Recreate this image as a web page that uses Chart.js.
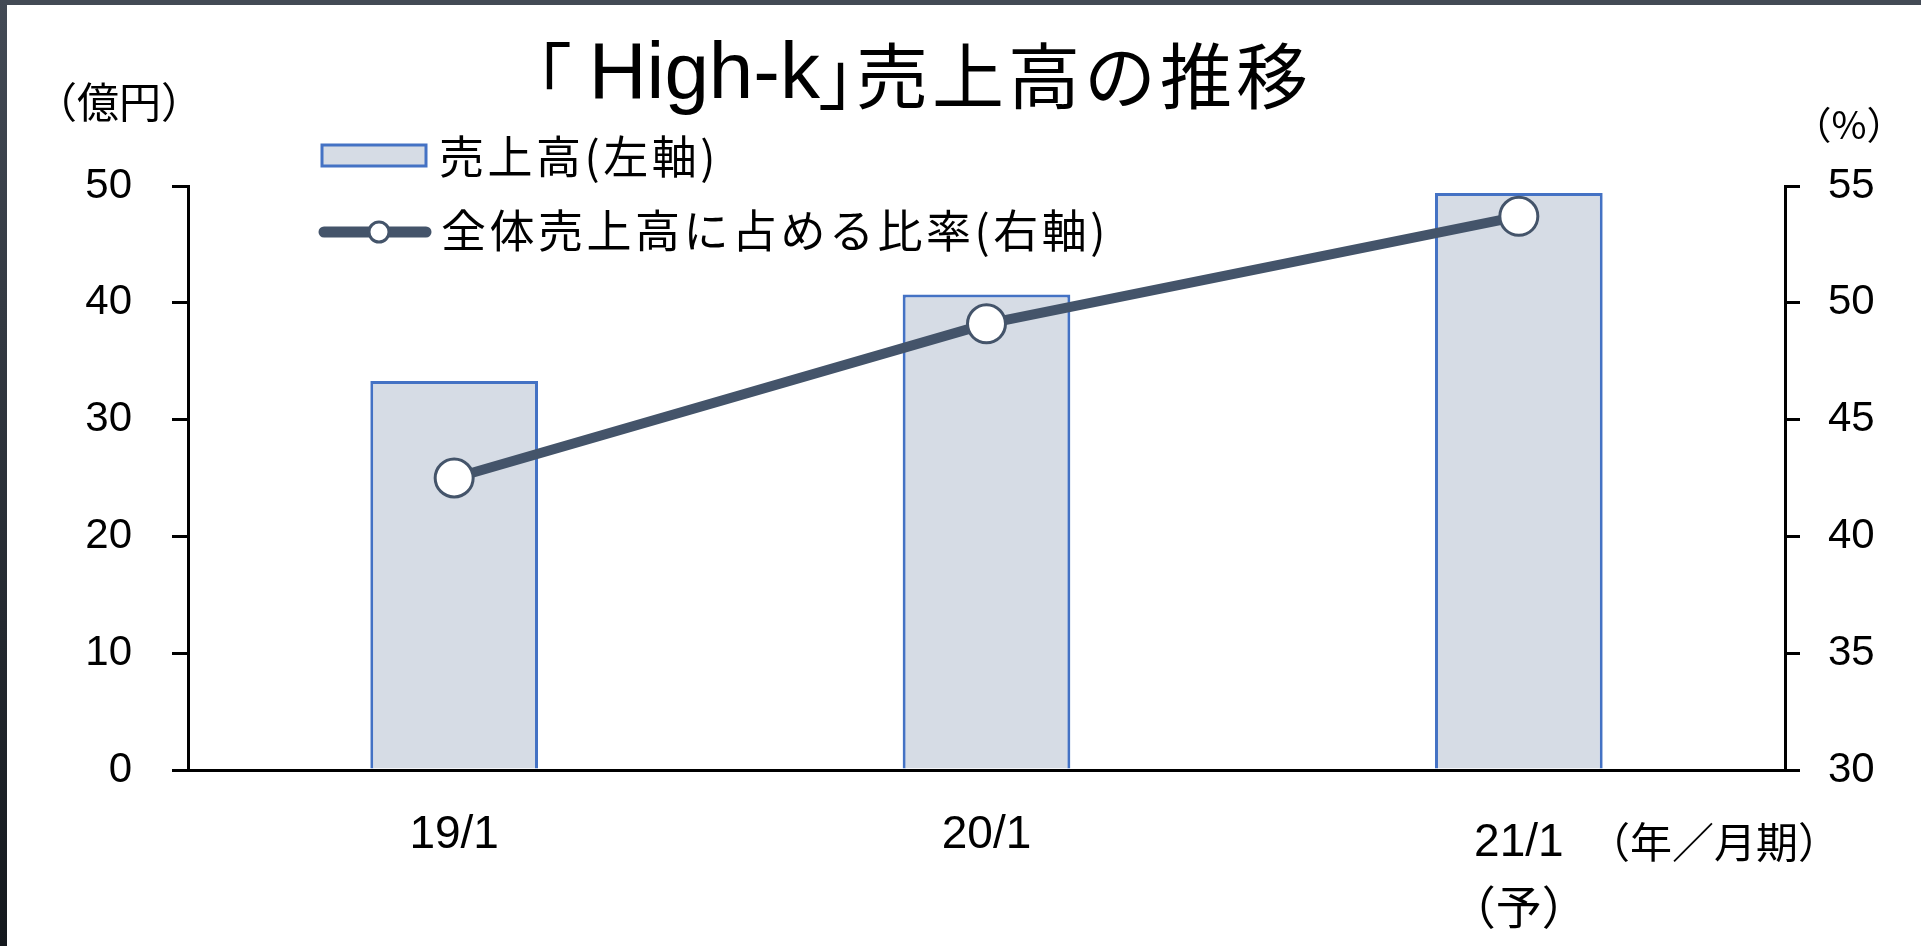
<!DOCTYPE html>
<html>
<head>
<meta charset="utf-8">
<script src="https://cdn.jsdelivr.net/npm/chart.js@4/dist/chart.umd.min.js"></script>
<style>
    html, body { margin: 0; padding: 0; background: #fff; overflow: hidden; }
    #frameTop { position: absolute; left: 0; top: 0; width: 1921px; height: 5px; background: #434a55; z-index: 2; }
    #frameLeft { position: absolute; left: 0; top: 0; width: 7px; height: 946px; background: linear-gradient(#434a55, #14181d); z-index: 2; }
    #chart { position: absolute; left: 0; top: 0; }
</style>
</head>
<body>
<div id="frameTop"></div>
<div id="frameLeft"></div>
<canvas id="chart" width="1921" height="946"></canvas>
<script>
// Values
const categories = ['19/1', '20/1', ['21/1', '（予）']];
const salesValues = [33.3, 40.7, 49.4];      // 売上高 (億円, left axis)
const shareValues = [42.5, 49.1, 53.7];      // 全体売上高に占める比率 (%, right axis)
const leftRange = [0, 50, 10];               // min, max, step
const rightRange = [30, 55, 5];

const jpFont = '"Noto Sans CJK JP", "Noto Sans", sans-serif';
const numFont = '"Liberation Sans", "Noto Sans CJK JP", sans-serif';
const lineColor = '#44546A';
const barFill = '#D6DCE5';
const barEdge = '#4472C4';

// Title, unit labels and the in-plot legend are drawn by hand
const overlayText = {
    id: 'overlayText',
    afterDraw(chart) {
        const ctx = chart.ctx;
        ctx.save();
        ctx.fillStyle = '#000';
        ctx.textBaseline = 'middle';

        // title in three pieces so the brackets sit tight like the original
        ctx.font = '72px ' + jpFont;
        ctx.textAlign = 'right';
        ctx.fillText('「', 572, 76);
        ctx.font = '80px ' + numFont;
        ctx.fillText('High-k', 820, 76);
        ctx.textAlign = 'left';
        ctx.font = '72px ' + jpFont;
        ctx.letterSpacing = '4px';
        ctx.fillText('」', 818, 76);
        ctx.fillText('売上高の推移', 856, 76);
        ctx.letterSpacing = '0px';

        ctx.textAlign = 'center';
        ctx.font = '42px ' + jpFont;
        ctx.fillText('（億円）', 119, 102);
        ctx.font = '38px ' + jpFont;
        ctx.fillText('（%）', 1849, 125);
        ctx.font = '42px ' + jpFont;
        ctx.fillText('（年／月期）', 1714, 842);

        // legend: bar swatch
        ctx.fillStyle = barFill;
        ctx.fillRect(322, 145, 104, 21);
        ctx.strokeStyle = barEdge;
        ctx.lineWidth = 3;
        ctx.strokeRect(322, 145, 104, 21);

        // legend: line with marker
        ctx.strokeStyle = lineColor;
        ctx.lineWidth = 11;
        ctx.lineCap = 'round';
        ctx.beginPath();
        ctx.moveTo(324, 232);
        ctx.lineTo(426, 232);
        ctx.stroke();
        ctx.beginPath();
        ctx.arc(379, 232, 10, 0, Math.PI * 2);
        ctx.fillStyle = '#fff';
        ctx.fill();
        ctx.lineWidth = 3;
        ctx.stroke();

        ctx.fillStyle = '#000';
        ctx.textAlign = 'left';
        ctx.font = '45px ' + jpFont;
        ctx.letterSpacing = '3.5px';
        ctx.fillText('売上高(左軸)', 439, 157);
        ctx.fillText('全体売上高に占める比率(右軸)', 441, 231);
        ctx.restore();
    }
};

new Chart(document.getElementById('chart'), {
    type: 'bar',
    data: {
        labels: categories,
        datasets: [{
            type: 'line',
            label: '全体売上高に占める比率(右軸)',
            data: shareValues,
            yAxisID: 'y1',
            borderColor: lineColor,
            borderWidth: 10,
            pointRadius: 19,
            pointBorderWidth: 3,
            pointBackgroundColor: '#fff',
            pointBorderColor: lineColor,
            order: 0
        }, {
            label: '売上高(左軸)',
            data: salesValues,
            yAxisID: 'y',
            backgroundColor: barFill,
            borderColor: barEdge,
            borderWidth: 3,
            barPercentage: 0.315,
            categoryPercentage: 1,
            order: 1
        }]
    },
    options: {
        responsive: false,
        animation: false,
        layout: { padding: { top: 186, left: 0, right: 0, bottom: 0 } },
        plugins: { legend: { display: false }, tooltip: { enabled: false } },
        scales: {
            x: {
                grid: { display: false },
                border: { display: true, color: '#000', width: 3 },
                ticks: {
                    color: '#000',
                    padding: 31,
                    maxRotation: 0,
                    autoSkip: false,
                    // the two-line label sits a little lower, so give it a taller line
                    font: c => ({ family: numFont, size: 46, lineHeight: c.index === 2 ? 68 / 46 : 52 / 46 })
                },
                afterFit: s => { s.height = 176; }
            },
            y: {
                position: 'left',
                min: leftRange[0],
                max: leftRange[1],
                ticks: { stepSize: leftRange[2], color: '#000', padding: 40, font: { family: numFont, size: 42 } },
                grid: { drawOnChartArea: false, drawTicks: true, tickLength: 16, lineWidth: 3, tickWidth: 3, color: '#000', tickColor: '#000' },
                border: { display: true, color: '#000', width: 3 },
                afterFit: s => { s.width = 188; }
            },
            y1: {
                position: 'right',
                min: rightRange[0],
                max: rightRange[1],
                ticks: { stepSize: rightRange[2], color: '#000', padding: 28, font: { family: numFont, size: 42 } },
                grid: { drawOnChartArea: false, drawTicks: true, tickLength: 15, lineWidth: 3, tickWidth: 3, color: '#000', tickColor: '#000' },
                border: { display: true, color: '#000', width: 3 },
                afterFit: s => { s.width = 136; }
            }
        }
    },
    plugins: [overlayText]
});
</script>
</body>
</html>
